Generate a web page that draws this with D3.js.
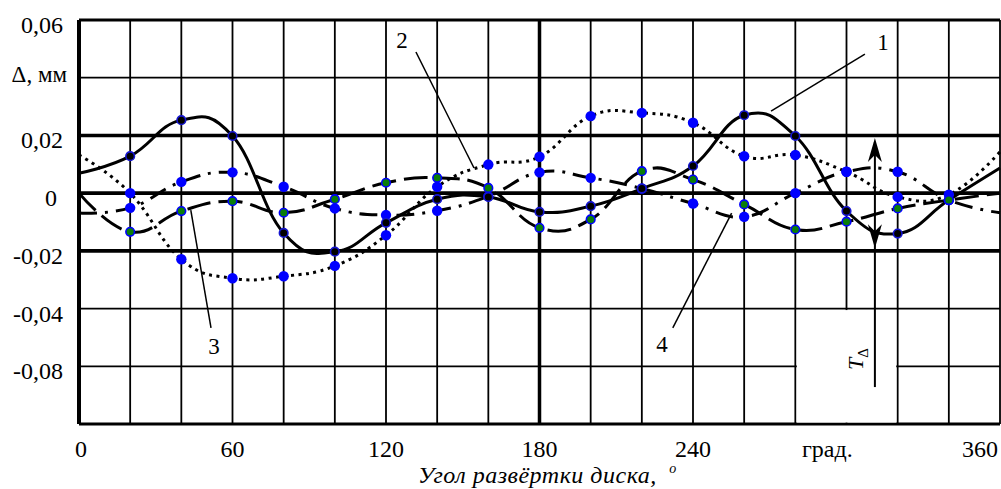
<!DOCTYPE html>
<html lang="ru">
  <head>
    <meta charset="UTF-8" />
    <title>Δ, мм</title>
    <script src="https://cdn.jsdelivr.net/npm/d3@7/dist/d3.min.js"></script>
    <style>
      html,
      body {
        margin: 0;
        padding: 0;
        background: #fff;
      }
      svg {
        display: block;
      }
      svg text {
        font-family: 'Liberation Serif', 'Tinos', 'Times New Roman', 'DejaVu Serif', serif;
      }
    </style>
  </head>
  <body>
    <svg width="1001" height="489"></svg>
    <script>
      // угол развёртки, град.
      const angles = [0, 20, 40, 60, 80, 100, 120, 140, 160, 180, 200, 220, 240, 260, 280, 300, 320, 340, 360];

      // кривые 1..4, мм
      const curve1 = [0.0069, 0.0128, 0.0253, 0.0198, -0.0138, -0.0203, -0.0103, -0.0021, -0.0013, -0.0065,
        -0.0045, 0.0016, 0.0094, 0.027, 0.0198, -0.0062, -0.014, -0.0024, 0.0087];
      const curve2 = [0.0132, 0.0, -0.0229, -0.0295, -0.0288, -0.0252, -0.0146, 0.0022, 0.0099, 0.0126,
        0.0267, 0.0278, 0.0244, 0.0128, 0.0132, 0.0074, -0.0013, -0.0005, 0.0143];
      const curve3 = [0.0, -0.0134, -0.0062, -0.0028, -0.0068, -0.0021, 0.0036, 0.0053, 0.0018, -0.012,
        -0.0091, 0.0076, 0.0047, -0.0039, -0.0126, -0.0099, -0.0053, -0.0024, 0.0];
      const curve4 = [-0.0069, -0.0051, 0.0039, 0.0072, 0.0022, -0.0053, -0.0076, -0.0061, -0.0011, 0.0072,
        0.0053, 0.0016, -0.0036, -0.0082, 0.0, 0.0074, 0.0074, -0.0024, -0.0068];

      const gridAngles = [0, 20, 40, 60, 80, 100, 120, 140, 160, 180, 200, 220, 240, 260, 280, 300, 320, 340, 360];
      const gridValues = [0.06, 0.04, 0.02, 0, -0.02, -0.04, -0.06, -0.08];

      const xTickAt = [0, 60, 120, 180, 240, 292.5, 360];
      const xTickLabels = ['0', '60', '120', '180', '240', 'град.', '360'];
      const yTickAt = [0.06, 0.02, 0, -0.02, -0.04, -0.06];
      const yTickLabels = ['0,06', '0,02', '0', '-0,02', '-0,04', '-0,08'];

      // выноски (в единицах графика)
      const leaders = [
        { label: '1', tx: 314.3, ty: 0.0496, x1: 307.2, y1: 0.0482, x2: 270.5, y2: 0.0284 },
        { label: '2', tx: 126.3, ty: 0.0503, x1: 131.7, y1: 0.0489, x2: 154.4, y2: 0.0087 },
        { label: '3', tx: 52.8, ty: -0.0557, x1: 51.6, y1: -0.0467, x2: 43.7, y2: -0.0059 },
        { label: '4', tx: 227.9, ty: -0.055, x1: 232.1, y1: -0.0467, x2: 255.1, y2: -0.0069 }
      ];
      const tolerance = { at: 311.1, top: 0.0191, bottom: -0.0191, end: -0.0672 };

      const XScale = d3.scaleLinear().domain([0, 360]).range([79, 1000]);
      const YScale = d3.scaleLinear().domain([-0.08, 0.06]).range([424, 20]);

      const svg = d3.select('svg');

      // сетка
      svg
        .append('g')
        .selectAll('line')
        .data(gridAngles)
        .enter()
        .append('line')
        .attr('x1', d => XScale(d))
        .attr('x2', d => XScale(d))
        .attr('y1', YScale(0.06))
        .attr('y2', YScale(-0.08))
        .attr('stroke', '#000')
        .attr('stroke-width', d => (d === 0 ? 4 : d === 180 ? 3.5 : 1.8));

      svg
        .append('g')
        .selectAll('line')
        .data(gridValues)
        .enter()
        .append('line')
        .attr('x1', XScale(0))
        .attr('x2', XScale(360))
        .attr('y1', d => YScale(d))
        .attr('y2', d => YScale(d))
        .attr('stroke', '#000')
        .attr('stroke-width', function(d) {
          if (d === 0.02 || d === 0 || d === -0.02) return 3.6;
          if (d === 0.06 || d === -0.08) return 3;
          return 1.8;
        });

      // окно под обозначение T
      svg
        .append('rect')
        .attr('x', XScale(280) + 1.5)
        .attr('y', YScale(-0.04) + 1.5)
        .attr('width', XScale(320) - XScale(280) - 3)
        .attr('height', YScale(-0.08) - YScale(-0.04) - 3)
        .attr('fill', '#fff');

      // кривые
      const line = d3
        .line()
        .x((d, i) => XScale(angles[i]))
        .y(d => YScale(d))
        .curve(d3.curveCardinal.tension(-0.3));

      const series = [
        { values: curve1, dash: null },
        { values: curve2, dash: '3,4.5' },
        { values: curve3, dash: '24,8' },
        { values: curve4, dash: '18,8,3,8' }
      ];

      svg
        .append('g')
        .selectAll('path')
        .data(series)
        .enter()
        .append('path')
        .attr('d', d => line(d.values))
        .attr('fill', 'none')
        .attr('stroke', '#000')
        .attr('stroke-width', 3)
        .attr('stroke-dasharray', d => d.dash);

      // маркеры
      function markers(values, fill, stroke, r) {
        svg
          .append('g')
          .selectAll('circle')
          .data(values.slice(1, -1))
          .enter()
          .append('circle')
          .attr('cx', (d, i) => XScale(angles[i + 1]))
          .attr('cy', d => YScale(d))
          .attr('r', r)
          .attr('fill', fill)
          .attr('stroke', stroke)
          .attr('stroke-width', 1.6);
      }
      markers(curve4, '#0000ff', 'none', 5.2);
      markers(curve2, '#0000ff', 'none', 5.2);
      markers(curve1, '#000', '#1515d0', 4.3);
      markers(curve3, '#0a7d0a', '#0000ff', 4.3);

      // выноски
      const lead = svg.append('g');
      lead
        .selectAll('line')
        .data(leaders)
        .enter()
        .append('line')
        .attr('x1', d => XScale(d.x1))
        .attr('y1', d => YScale(d.y1))
        .attr('x2', d => XScale(d.x2))
        .attr('y2', d => YScale(d.y2))
        .attr('stroke', '#000')
        .attr('stroke-width', 1.5);
      lead
        .selectAll('text')
        .data(leaders)
        .enter()
        .append('text')
        .attr('x', d => XScale(d.tx))
        .attr('y', d => YScale(d.ty))
        .attr('text-anchor', 'middle')
        .attr('font-size', 23)
        .text(d => d.label);

      // допуск T
      const tx = XScale(tolerance.at);
      const yTop = YScale(tolerance.top);
      const yBot = YScale(tolerance.bottom);
      svg
        .append('line')
        .attr('x1', tx)
        .attr('x2', tx)
        .attr('y1', yTop + 4)
        .attr('y2', YScale(tolerance.end))
        .attr('stroke', '#000')
        .attr('stroke-width', 2);
      svg
        .append('path')
        .attr('d', `M${tx},${yTop} L${tx + 7},${yTop + 24} L${tx},${yTop + 17} L${tx - 7},${yTop + 24} Z`)
        .attr('fill', '#000');
      svg
        .append('path')
        .attr('d', `M${tx},${yBot} L${tx + 7},${yBot - 24} L${tx},${yBot - 17} L${tx - 7},${yBot - 24} Z`)
        .attr('fill', '#000');
      const tLabel = svg
        .append('text')
        .attr('transform', `translate(${XScale(306.4)},${YScale(-0.0613)}) rotate(-90)`)
        .attr('font-size', 22)
        .attr('font-style', 'italic');
      tLabel.append('tspan').text('T');
      tLabel
        .append('tspan')
        .attr('font-size', 15)
        .attr('font-style', 'normal')
        .attr('dy', 5)
        .text('Δ');

      // подписи осей
      svg
        .append('g')
        .selectAll('text')
        .data(xTickAt)
        .enter()
        .append('text')
        .attr('x', function(d, i) {
          if (i === 0) return XScale(d) - 4;
          if (i === xTickAt.length - 1) return XScale(d) - 2;
          return XScale(d);
        })
        .attr('y', 457)
        .attr('text-anchor', function(d, i) {
          if (i === 0) return 'start';
          if (i === xTickAt.length - 1) return 'end';
          return 'middle';
        })
        .attr('font-size', 24)
        .text((d, i) => xTickLabels[i]);

      svg
        .append('g')
        .selectAll('text')
        .data(yTickAt)
        .enter()
        .append('text')
        .attr('x', d => (d === 0 ? 57 : 63))
        .attr('y', d => YScale(d) + 13)
        .attr('text-anchor', 'end')
        .attr('font-size', 24)
        .text((d, i) => yTickLabels[i]);

      svg
        .append('text')
        .attr('x', 67)
        .attr('y', 82)
        .attr('text-anchor', 'end')
        .attr('font-size', 23)
        .text('Δ, мм');

      const title = svg
        .append('text')
        .attr('x', 418)
        .attr('y', 483)
        .attr('font-size', 24)
        .attr('letter-spacing', 0.5)
        .attr('font-style', 'italic')
        .text('Угол развёртки диска, ');
      title
        .append('tspan')
        .attr('font-size', 14)
        .attr('dx', 6)
        .attr('dy', -10)
        .text('o');
    </script>
  </body>
</html>
